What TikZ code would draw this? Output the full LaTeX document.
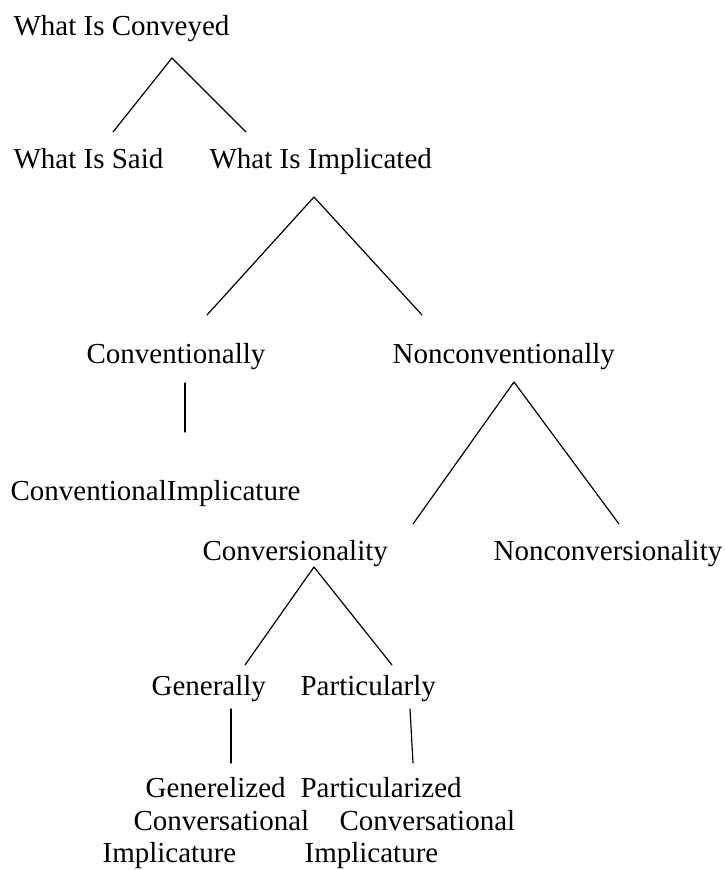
\documentclass[tikz,border=0pt]{standalone}
\usepackage{fontspec}
\setmainfont{Liberation Serif}
\begin{document}
\begin{tikzpicture}[x=1pt, y=-1pt, line join=round, line cap=round, line width=1.2pt,
	term/.style={anchor=base west, inner sep=0pt, font=\fontsize{29}{34}\selectfont}]
	\useasboundingbox (0,0) rectangle (725,870);
	% terms
	\node[term] (conveyed) at (13,35) {What Is Conveyed};
	\node[term] (said) at (13,168) {What Is Said};
	\node[term] (implicated) at (209,168) {What Is Implicated};
	\node[term] (conv) at (86,363) {Conventionally};
	\node[term] (nonconv) at (392,363) {Nonconventionally};
	\node[term] (convimpl) at (10,500) {ConventionalImplicature};
	\node[term] (versional) at (202,560) {Conversionality};
	\node[term] (nonversional) at (493,560) {Nonconversionality};
	\node[term] (general) at (151,695) {Generally};
	\node[term] (partic) at (300,695) {Particularly};
	\node[term] (gena) at (145,797) {Generelized};
	\node[term] (genb) at (133,830) {Conversational};
	\node[term] (genc) at (102,862) {Implicature};
	\node[term] (para) at (300,797) {Particularized};
	\node[term] (parb) at (339,830) {Conversational};
	\node[term] (parc) at (304,862) {Implicature};
	% branch points
	\coordinate (conveyed-top) at (172,58);
	\coordinate (said-end) at (113,132);
	\coordinate (implicated-end) at (246,132);
	\coordinate (implicated-top) at (314,197);
	\coordinate (conv-end) at (207,315);
	\coordinate (nonconv-end) at (422,315);
	\coordinate (conv-top) at (185,383);
	\coordinate (convimpl-end) at (185,432);
	\coordinate (nonconv-top) at (514,382);
	\coordinate (versional-end) at (413,524);
	\coordinate (nonversional-end) at (619,524);
	\coordinate (versional-top) at (314,567);
	\coordinate (general-end) at (245,665);
	\coordinate (partic-end) at (392,665);
	\coordinate (general-top) at (231,709);
	\coordinate (gena-end) at (231,763);
	\coordinate (partic-top) at (410,709);
	\coordinate (para-end) at (413,763);
	% branches
	\draw (conveyed-top)--(said-end) (conveyed-top)--(implicated-end);
	\draw (implicated-top)--(conv-end) (implicated-top)--(nonconv-end);
	\draw (conv-top)--(convimpl-end);
	\draw (nonconv-top)--(versional-end) (nonconv-top)--(nonversional-end);
	\draw (versional-top)--(general-end) (versional-top)--(partic-end);
	\draw (general-top)--(gena-end);
	\draw (partic-top)--(para-end);
\end{tikzpicture}
\end{document}
